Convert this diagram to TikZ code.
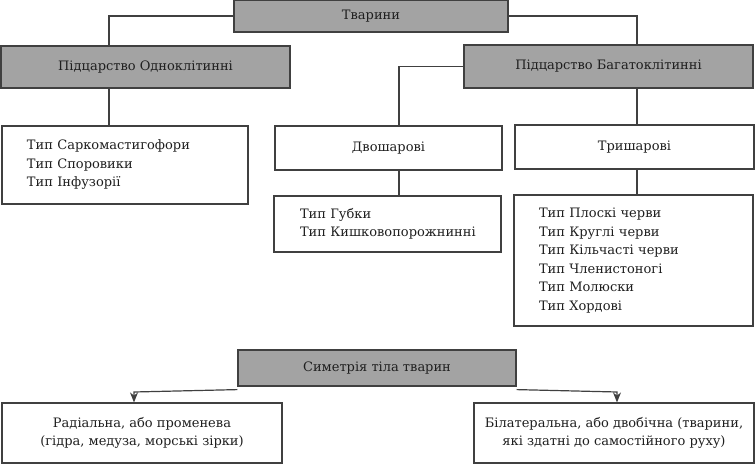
\documentclass[tikz,border=0pt]{standalone}
\usepackage{fontspec}
\setmainfont{DejaVu Serif}
\usepackage{tikz}
\usetikzlibrary{arrows,arrows.meta}

\tikzset{
  gbox/.style={draw=black!75, fill=black!36, line width=1.2pt, inner sep=0pt, text=black!88},
  wbox/.style={draw=black!75, fill=white, line width=1.2pt, inner sep=0pt, text=black!88},
  conn/.style={draw=black!75, line width=1.2pt},
}

\begin{document}
\begin{tikzpicture}[x=1pt,y=-1pt,font=\fontsize{13}{18.5}\selectfont]
    \useasboundingbox (0,0) rectangle (756,470);
    \node[gbox,minimum width=274,minimum height=32] (tv) at (371,16) {Тварини};
    \node[gbox,minimum width=289,minimum height=42] (od) at (145.5,67) {Підцарство Одноклітинні};
    \node[gbox,minimum width=289,minimum height=43] (bg) at (608.5,66.5) {Підцарство Багатоклітинні};
    \node[wbox,minimum width=246,minimum height=78,text width=196,align=left] (sk) at (125,165) {Тип~Саркомастигофори\\Тип~Споровики\\Тип~Інфузорії};
    \node[wbox,minimum width=227,minimum height=44] (dv) at (388.5,148) {Двошарові};
    \node[wbox,minimum width=239,minimum height=44] (tr) at (634.5,147) {Тришарові};
    \node[wbox,minimum width=227,minimum height=56,text width=175,align=left] (gb) at (387.5,224) {Тип~Губки\\Тип~Кишковопорожнинні};
    \node[wbox,minimum width=239,minimum height=131,text width=189,align=left] (tl) at (633.5,260.5) {Тип~Плоскі~черви\\Тип~Круглі~черви\\Тип~Кільчасті~черви\\Тип~Членистоногі\\Тип~Молюски\\Тип~Хордові};
    \node[gbox,minimum width=278,minimum height=36] (sm) at (377,368) {Симетрія тіла тварин};
    \node[wbox,minimum width=280,minimum height=60,align=center] (rd) at (142,433) {Радіальна, або променева\\(гідра, медуза, морські зірки)};
    \node[wbox,minimum width=280,minimum height=60,align=center] (bl) at (614,433) {Білатеральна, або двобічна (тварини,\\які здатні до самостійного руху)};
    \coordinate (j1) at (109,0);
    \coordinate (j2) at (637,0);
    \coordinate (j3) at (399,0);
    \coordinate (k1) at (134,392);
    \coordinate (k2) at (617,392);
    \draw[conn] (tv.west) -| (od.north -| j1);
    \draw[conn] (od.south -| j1) -- (sk.north -| j1);
    \draw[conn] (tv.east) -| (bg.north -| j2);
    \draw[conn] (bg.south -| j2) -- (tr.north -| j2);
    \draw[conn] (tr.south -| j2) -- (tl.north -| j2);
    \draw[conn] (bg.west) -| (dv.north -| j3);
    \draw[conn] (dv.south -| j3) -- (gb.north -| j3);
    \draw[conn,-{Stealth[length=10pt,width=8pt]}] ([yshift=-3]sm.south west) -- (k1) -- (rd.north -| k1);
    \draw[conn,-{Stealth[length=10pt,width=8pt]}] ([yshift=-3]sm.south east) -- (k2) -- (bl.north -| k2);
\end{tikzpicture}
\end{document}
